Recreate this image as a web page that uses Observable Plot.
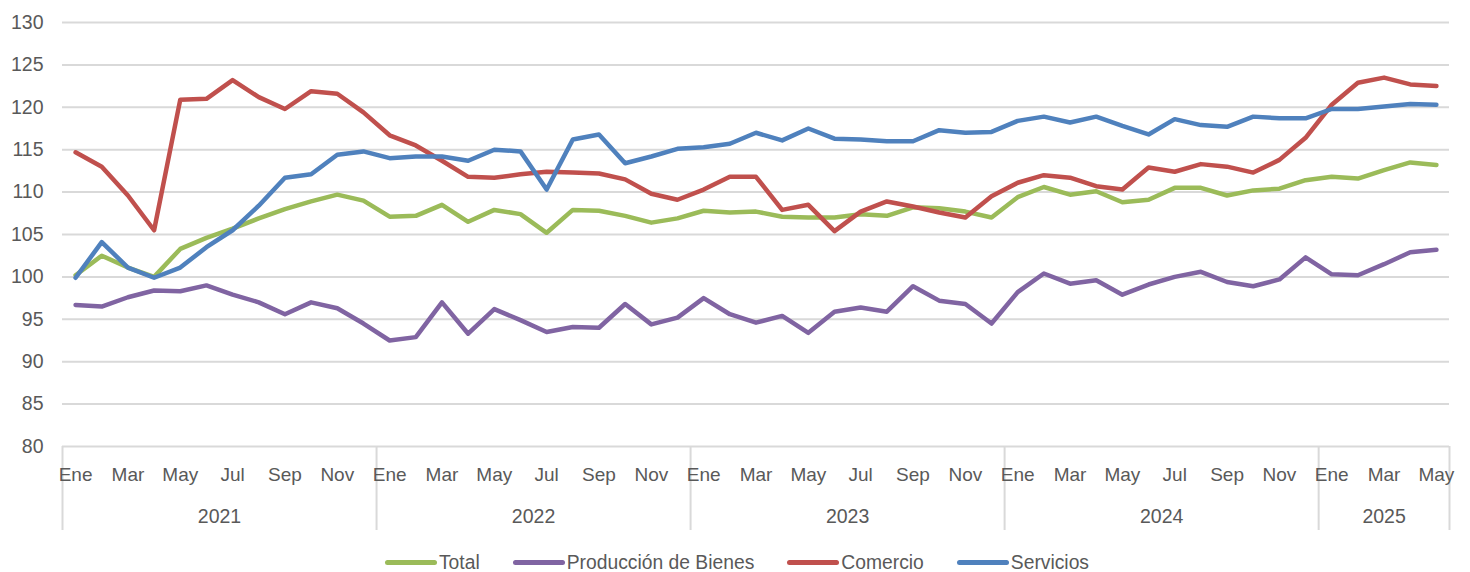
<!DOCTYPE html>
<html><head><meta charset="utf-8">
<script src="https://cdn.jsdelivr.net/npm/d3@7"></script>
<script src="https://cdn.jsdelivr.net/npm/@observablehq/plot@0.6"></script>
<style>
body{margin:0;background:#fff;font-family:"Liberation Sans",Arial,sans-serif;}
#legend{display:flex;justify-content:center;align-items:center;gap:33px;height:27px;padding-top:4px;margin-left:4px;font-size:19.3px;color:#595959;}
.item{display:flex;align-items:center;}
.sw{width:52px;height:5px;border-radius:3px;margin-right:2px;}
</style></head><body>
<div id="chart"></div><div id="legend"></div>
<script>
const monthNames = ["Ene","Feb","Mar","Abr","May","Jun","Jul","Ago","Sep","Oct","Nov","Dic"];
const years = ["2021","2022","2023","2024","2025"];
const monthsPerYear = [12,12,12,12,5];
const yTicks = [80,85,90,95,100,105,110,115,120,125,130];
const seriesNames = ["Total","Producción de Bienes","Comercio","Servicios"];
const seriesColors = ["#9BBB59","#8064A2","#C0504D","#4F81BD"];

const total = [100.2,102.5,101.1,100.0,103.3,104.6,105.7,106.9,108.0,108.9,109.7,109.0,
107.1,107.2,108.5,106.5,107.9,107.4,105.2,107.9,107.8,107.2,106.4,106.9,
107.8,107.6,107.7,107.1,107.0,107.0,107.4,107.2,108.2,108.1,107.7,107.0,
109.4,110.6,109.7,110.1,108.8,109.1,110.5,110.5,109.6,110.2,110.4,111.4,
111.8,111.6,112.6,113.5,113.2];
const bienes = [96.7,96.5,97.6,98.4,98.3,99.0,97.9,97.0,95.6,97.0,96.3,94.5,
92.5,92.9,97.0,93.3,96.2,94.9,93.5,94.1,94.0,96.8,94.4,95.2,
97.5,95.6,94.6,95.4,93.4,95.9,96.4,95.9,98.9,97.2,96.8,94.5,
98.2,100.4,99.2,99.6,97.9,99.1,100.0,100.6,99.4,98.9,99.7,102.3,
100.3,100.2,101.5,102.9,103.2];
const comercio = [114.7,113.0,109.6,105.5,120.9,121.0,123.2,121.2,119.8,121.9,121.6,119.4,
116.7,115.5,113.7,111.8,111.7,112.1,112.4,112.3,112.2,111.5,109.8,109.1,
110.3,111.8,111.8,107.9,108.5,105.4,107.7,108.9,108.3,107.6,107.0,109.5,
111.1,112.0,111.7,110.7,110.3,112.9,112.4,113.3,113.0,112.3,113.8,116.4,
120.3,122.9,123.5,122.7,122.5];
const servicios = [99.9,104.1,101.1,99.9,101.1,103.5,105.5,108.4,111.7,112.1,114.4,114.8,
114.0,114.2,114.2,113.7,115.0,114.8,110.3,116.2,116.8,113.4,114.2,115.1,
115.3,115.7,117.0,116.1,117.5,116.3,116.2,116.0,116.0,117.3,117.0,117.1,
118.4,118.9,118.2,118.9,117.8,116.8,118.6,117.9,117.7,118.9,118.7,118.7,
119.8,119.8,120.1,120.4,120.3];

// build periods
const periods = [];
years.forEach((y, yi) => { for (let m = 0; m < monthsPerYear[yi]; m++) periods.push({year: y, month: monthNames[m]}); });
const n = periods.length;
const allSeries = [total, bienes, comercio, servicios];
const data = [];
allSeries.forEach((arr, si) => arr.forEach((v, i) => data.push({i, v, s: seriesNames[si]})));

const monthTicks = d3.range(0, n, 2);
const bounds = [-0.5];
const yearMids = [];
let acc = 0;
monthsPerYear.forEach(c => { yearMids.push(acc + (c - 1) / 2); acc += c; bounds.push(acc - 0.5); });

const font = '"Liberation Sans", Arial, sans-serif';
const chart = Plot.plot({
  width: 1470, height: 545,
  marginLeft: 62, marginRight: 21, marginTop: 22, marginBottom: 99,
  style: {fontFamily: font, fontSize: "19px", color: "#595959", background: "#fff"},
  x: {domain: [-0.5, n - 0.5], label: null},
  y: {domain: [80, 130], label: null},
  color: {domain: seriesNames, range: seriesColors},
  marks: [
    Plot.gridY(yTicks, {stroke: "#d9d9d9", strokeOpacity: 1, strokeWidth: 2}),
    Plot.ruleX(bounds, {stroke: "#d9d9d9", strokeWidth: 2, insetTop: 424, insetBottom: -84}),
    Plot.axisY(yTicks, {tickSize: 0, tickPadding: 19, fontSize: 19.5, label: null}),
    Plot.axisX(monthTicks, {tickSize: 0, tickPadding: 21, fontSize: 19, label: null, tickFormat: i => periods[i].month}),
    Plot.axisX(yearMids, {tickSize: 0, tickPadding: 63, fontSize: 19.5, label: null, tickFormat: (d, k) => years[k]}),
    Plot.line(data, {x: "i", y: "v", z: "s", stroke: "s", strokeWidth: 4.5, strokeLinejoin: "round", strokeLinecap: "round"})
  ]
});
document.getElementById("chart").appendChild(chart);

const legend = document.getElementById("legend");
seriesNames.forEach((name, k) => {
  const it = document.createElement("div"); it.className = "item";
  const sw = document.createElement("span"); sw.className = "sw"; sw.style.background = seriesColors[k];
  const tx = document.createElement("span"); tx.textContent = name;
  it.appendChild(sw); it.appendChild(tx); legend.appendChild(it);
});
</script></body></html>
